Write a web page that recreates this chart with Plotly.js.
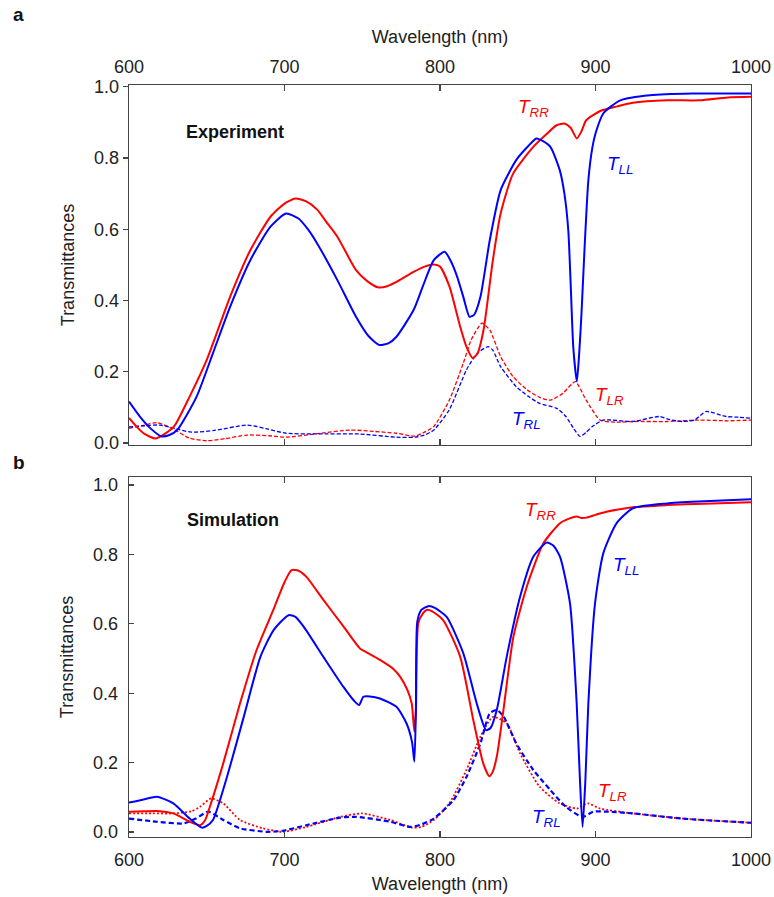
<!DOCTYPE html>
<html>
<head>
<meta charset="utf-8">
<script src="https://cdn.plot.ly/plotly-3.0.1.min.js"></script>
<style>html,body{margin:0;padding:0;background:#fff;}#chart{width:774px;height:897px;}</style>
</head>
<body>
<div id="chart"></div>
<script>
// ---------- Panel a: Experiment ----------
const expWlRR = [600,605,610,617,623,629,639,650,665,678,691,700,707,714,721,727,734,746,753,760,766,772,783,790,796,800,806,813,817,821,824,828,834,839,847,860,868,875,880,884,888,891,894,903,914,924,946,967,985,1000];
const expRR   = [0.07,0.045,0.025,0.012,0.025,0.046,0.13,0.233,0.41,0.541,0.635,0.672,0.686,0.678,0.655,0.62,0.579,0.485,0.455,0.437,0.44,0.452,0.48,0.495,0.501,0.495,0.44,0.326,0.27,0.238,0.25,0.317,0.513,0.644,0.756,0.831,0.865,0.892,0.897,0.885,0.855,0.875,0.906,0.932,0.945,0.955,0.962,0.962,0.97,0.972];

const expWlLL = [600,607,614,621,626,631,643.5,654,665,678,691,701,709,715,721,734,746,754,761,767,772,783,789,796,803,807,811,815,819,822,826,832,839,849,856,862,866,871,877,880,882.5,884,885.7,888,889.5,891,893,895.4,898,900,905,910,916,935,962,967,1000];
const expLL   = [0.116,0.074,0.04,0.018,0.022,0.036,0.13,0.252,0.382,0.513,0.607,0.644,0.63,0.6,0.56,0.457,0.354,0.3,0.275,0.28,0.298,0.373,0.44,0.513,0.537,0.51,0.467,0.41,0.354,0.36,0.41,0.569,0.71,0.794,0.83,0.855,0.848,0.831,0.766,0.7,0.597,0.45,0.27,0.172,0.25,0.364,0.55,0.738,0.83,0.869,0.925,0.945,0.962,0.976,0.981,0.981,0.981];

const expWlLR = [600,610,618,628,639,650,662,676,690,701,720,742,758,772,784,790,796,806,815,820,827,832,839,847,856,864,871,879,887,894,903,914,924,946,967,985,1000];
const expLR   = [0.041,0.05,0.057,0.04,0.013,0.006,0.012,0.022,0.02,0.016,0.025,0.036,0.032,0.027,0.019,0.03,0.046,0.12,0.224,0.289,0.336,0.317,0.242,0.186,0.149,0.128,0.12,0.139,0.172,0.12,0.064,0.058,0.06,0.06,0.064,0.062,0.064];

const expWlRL = [600,610,620,630,640,655,676,688,701,720,748,772,784,790,796,806,817,824,831,834,839,849,857,864,875,881,886,890,894,898,905,924,941,948,956,964,971,984,992,1000];
const expRL   = [0.045,0.048,0.05,0.04,0.03,0.035,0.05,0.04,0.027,0.025,0.025,0.016,0.016,0.022,0.036,0.093,0.205,0.252,0.27,0.26,0.214,0.158,0.13,0.111,0.097,0.074,0.04,0.018,0.03,0.046,0.064,0.06,0.074,0.065,0.06,0.065,0.088,0.074,0.072,0.069];

// ---------- Panel b: Simulation ----------
const simWlRR = [600,610,618,628.5,639,645.7,649,652,660.6,671.4,682,692.8,700,704.5,709,714,725,738,748.5,752,761.4,770,774.3,779,781.8,783.5,784.5,786,789,791.4,795,802,813,821.4,827.8,831.7,833.5,836.5,840.8,847.2,855.8,866.5,877.2,883,888,891,894.3,900,907,924,946,970,1000];
const simRR   = [0.059,0.06,0.061,0.054,0.03,0.02,0.035,0.073,0.198,0.371,0.524,0.64,0.72,0.755,0.753,0.736,0.669,0.592,0.529,0.52,0.496,0.47,0.448,0.41,0.371,0.29,0.35,0.601,0.63,0.64,0.636,0.611,0.505,0.323,0.198,0.161,0.17,0.217,0.352,0.563,0.707,0.832,0.89,0.903,0.909,0.905,0.906,0.914,0.923,0.936,0.942,0.946,0.95];

const simWlLL = [600,610,618,628.5,639,646.8,650,654,663,673.8,684.5,693,702.6,707,712.3,725,737.8,745,748,750.7,755,761.4,772,778.5,782,783.5,784.5,785.4,788,792.5,797,804.3,815,823.6,829.6,832.5,836.5,842.9,851.5,860,868.6,873,877.2,883.6,887.9,890,891.7,893.5,895.4,899.7,905,913.6,924,946,970,1000];
const simLL   = [0.085,0.095,0.102,0.083,0.039,0.013,0.018,0.035,0.159,0.332,0.505,0.582,0.625,0.62,0.592,0.505,0.419,0.377,0.366,0.39,0.391,0.385,0.361,0.313,0.26,0.203,0.35,0.606,0.64,0.651,0.645,0.62,0.515,0.371,0.294,0.3,0.352,0.505,0.678,0.793,0.834,0.825,0.793,0.659,0.371,0.15,0.015,0.15,0.371,0.659,0.803,0.89,0.933,0.947,0.953,0.959];

const simWlLR = [600,615,628,640,645.7,652.8,660.6,671.4,686,699,714,736,750,768,782,788,796,806,817,826,834,843,851.5,864,877,888,895,903,924,956,1000];
const simLR   = [0.054,0.054,0.054,0.06,0.073,0.097,0.083,0.035,0.011,0.001,0.015,0.044,0.054,0.035,0.013,0.015,0.035,0.083,0.179,0.275,0.332,0.313,0.227,0.131,0.083,0.068,0.083,0.068,0.054,0.039,0.027];

const simWlRL = [600,618,635,643,651,660.6,671.4,688.5,699,714,736,746,768,781,788,796,808.6,817,826,832,836.5,841,849,860,871,881,891.7,898.6,907,924,956,1000];
const simRL   = [0.039,0.03,0.025,0.039,0.059,0.035,0.011,0.001,0.004,0.02,0.042,0.044,0.03,0.015,0.022,0.039,0.092,0.159,0.256,0.342,0.352,0.332,0.256,0.179,0.121,0.073,0.044,0.059,0.059,0.054,0.039,0.027];

const xTicks = [600,700,800,900,1000];
const yTicks = [0,0.2,0.4,0.6,0.8,1.0];

const RED = 'rgb(255,0,0)', BLUE = 'rgb(0,0,255)';
const FONT = 'Liberation Sans, Arial, sans-serif';
const W = 774, H = 897;
const px = v => v / W, py = v => 1 - v / H;

function tr(x, y, color, dash, width, xa, ya) {
  return {x: x, y: y, type: 'scatter', mode: 'lines', xaxis: xa, yaxis: ya,
    line: {color: color, width: width, dash: dash, shape: 'spline', smoothing: 0.6},
    showlegend: false, hoverinfo: 'skip'};
}

const data = [
  tr(expWlLR, expLR, RED, '4px,2px', 1.3, 'x', 'y'),
  tr(expWlRL, expRL, BLUE, '4px,2px', 1.3, 'x', 'y'),
  tr(expWlRR, expRR, RED, 'solid', 2, 'x', 'y'),
  tr(expWlLL, expLL, BLUE, 'solid', 2, 'x', 'y'),
  tr(simWlLR, simLR, RED, '2px,2px', 1.8, 'x2', 'y2'),
  tr(simWlRL, simRL, BLUE, '5px,3px', 2.2, 'x2', 'y2'),
  tr(simWlRR, simRR, RED, 'solid', 2, 'x2', 'y2'),
  tr(simWlLL, simLL, BLUE, 'solid', 2, 'x2', 'y2')
];

const axCommon = {
  showline: true, linecolor: '#444', linewidth: 1.3, tickcolor: '#444', tickwidth: 1.3,
  showgrid: false, zeroline: false, tickfont: {family: FONT, size: 18, color: '#222'}
};
const xDom = [129 / W, 751 / W];

const layout = {
  width: W, height: H,
  margin: {l: 0, r: 0, t: 0, b: 0},
  paper_bgcolor: '#fff', plot_bgcolor: '#fff',
  font: {family: FONT, color: '#222'},
  xaxis: Object.assign({}, axCommon, {
    domain: xDom, anchor: 'y', side: 'top', range: [600, 1000],
    tickvals: xTicks, ticks: 'inside', ticklen: 6, mirror: 'ticks', ticklabelstandoff: 4,
    title: {text: 'Wavelength (nm)', font: {family: FONT, size: 18, color: '#222'}, standoff: 8}
  }),
  yaxis: Object.assign({}, axCommon, {
    domain: [(H - 445) / H, (H - 85) / H], anchor: 'x', range: [-0.006, 1.005],
    tickvals: yTicks, tickformat: '.1f', ticks: 'outside', ticklen: 5, mirror: true,
    title: {text: 'Transmittances', font: {family: FONT, size: 18, color: '#222'}, standoff: 14}
  }),
  xaxis2: Object.assign({}, axCommon, {
    domain: xDom, anchor: 'y2', side: 'bottom', range: [600, 1000],
    tickvals: xTicks, ticks: 'inside', ticklen: 6, mirror: 'ticks', ticklabelstandoff: 6,
    title: {text: 'Wavelength (nm)', font: {family: FONT, size: 18, color: '#222'}, standoff: 8}
  }),
  yaxis2: Object.assign({}, axCommon, {
    domain: [(H - 837) / H, (H - 477) / H], anchor: 'x2', range: [-0.014, 1.023],
    tickvals: yTicks, tickformat: '.1f', ticks: 'inside', ticklen: 5, mirror: true, ticklabelstandoff: 6,
    title: {text: 'Transmittances', font: {family: FONT, size: 18, color: '#222'}, standoff: 14}
  }),
  annotations: []
};

function ann(text, x, y, color, size, bold, xanchor) {
  layout.annotations.push({
    xref: 'paper', yref: 'paper', x: px(x), y: py(y), xanchor: xanchor || 'left', yanchor: 'middle',
    text: bold ? '<b>' + text + '</b>' : text, showarrow: false,
    font: {family: FONT, size: size, color: color}
  });
}
ann('a', 11, 14, '#111', 19, true);
ann('b', 11, 462, '#111', 19, true);
ann('Experiment', 235, 132, '#111', 18, true, 'center');
ann('Simulation', 233, 520, '#111', 18, true, 'center');
const LBL = 19;
ann('<i>T<sub>RR</sub></i>', 516, 108, RED, LBL);
ann('<i>T<sub>LL</sub></i>', 605, 165, BLUE, LBL);
ann('<i>T<sub>LR</sub></i>', 593, 396, RED, LBL);
ann('<i>T<sub>RL</sub></i>', 510, 420, BLUE, LBL);
ann('<i>T<sub>RR</sub></i>', 523, 511, RED, LBL);
ann('<i>T<sub>LL</sub></i>', 611, 566, BLUE, LBL);
ann('<i>T<sub>LR</sub></i>', 596, 792, RED, LBL);
ann('<i>T<sub>RL</sub></i>', 530, 818, BLUE, LBL);

Plotly.newPlot('chart', data, layout, {displayModeBar: false, staticPlot: true});
</script>
</body>
</html>
